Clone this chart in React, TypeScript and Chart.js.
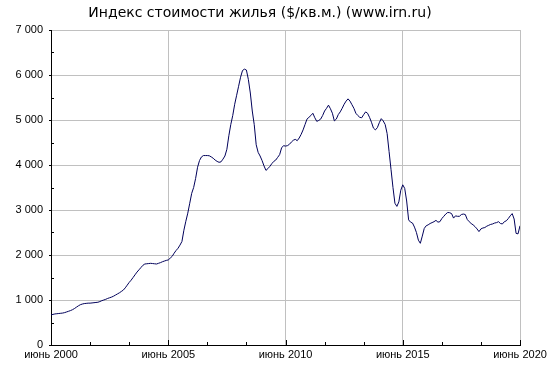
import React, { useEffect, useRef } from "react";
import { Chart, registerables } from "chart.js";

Chart.register(...registerables);

const chartTitle = "Индекс стоимости жилья ($/кв.м.) (www.irn.ru)";

// Monthly index values, June 2000 .. June 2020 ($/кв.м.)
const indexValues: number[] = [
  670, 680, 690, 695, 700, 705, 710, 720, 735, 750, 765, 785, 810,
  840, 870, 895, 910, 920, 925, 930, 930, 935, 940, 945, 950,
  965, 985, 1000, 1015, 1035, 1050, 1065, 1085, 1110, 1135, 1160, 1190,
  1220, 1270, 1330, 1390, 1440, 1500, 1560, 1620, 1670, 1720, 1770, 1800,
  1805, 1810, 1815, 1810, 1805, 1800, 1815, 1830, 1850, 1865, 1880, 1890,
  1930, 1970, 2040, 2100, 2150, 2220, 2300, 2550, 2750, 2930, 3150, 3370,
  3500, 3700, 3950, 4100, 4180, 4210, 4210, 4210, 4205, 4180, 4150, 4110,
  4080, 4060, 4070, 4130, 4200, 4350, 4650, 4900, 5100, 5350, 5550, 5750,
  5950, 6100, 6130, 6110, 5900, 5600, 5200, 4900, 4450, 4280, 4200, 4100,
  3980, 3880, 3920, 3970, 4030, 4080, 4110, 4170, 4230, 4380, 4430, 4420,
  4430, 4460, 4510, 4550, 4570, 4540, 4600, 4680, 4780, 4900, 5020, 5060,
  5100, 5150, 5050, 4970, 4990, 5020, 5100, 5200, 5260, 5330, 5250, 5150,
  4980, 5020, 5120, 5180, 5260, 5350, 5420, 5470, 5420, 5340, 5260, 5150,
  5100, 5060, 5050, 5120, 5180, 5150, 5060, 4950, 4820, 4780, 4830, 4940,
  5030, 4980, 4900, 4700, 4300, 3900, 3500, 3150, 3080, 3180, 3440, 3560,
  3480, 3200, 2780, 2730, 2710, 2620, 2500, 2330, 2260, 2420, 2590, 2650,
  2670, 2700, 2720, 2740, 2770, 2730, 2740, 2810, 2860, 2910, 2945, 2940,
  2920, 2820, 2870, 2860, 2860, 2900, 2910, 2900, 2790, 2740, 2700, 2670,
  2630, 2580, 2520, 2580, 2600, 2610, 2640, 2660, 2680, 2690, 2710, 2720,
  2740, 2700, 2690, 2740, 2760, 2810, 2870, 2920, 2800, 2480, 2470, 2650,
];

const xTickLabels = ["июнь 2000", "июнь 2005", "июнь 2010", "июнь 2015", "июнь 2020"];
const yTickLabels = ["0", "1 000", "2 000", "3 000", "4 000", "5 000", "6 000", "7 000"];

const tickMarks = {
  id: "tickMarks",
  afterDraw(chart: any) {
    const { ctx, scales, chartArea } = chart;
    const xs = scales.x;
    const ys = scales.y;
    ctx.save();
    ctx.strokeStyle = "#000";
    ctx.lineWidth = 1;
    ctx.beginPath();
    for (let v = 0; v <= 240; v += 20) {
      const px = Math.round(xs.getPixelForValue(v)) + 0.5;
      const len = v % 60 === 0 ? 5 : 3;
      ctx.moveTo(px, chartArea.bottom);
      ctx.lineTo(px, chartArea.bottom - len);
    }
    for (let v = 0; v <= 7000; v += 500) {
      const py = Math.round(ys.getPixelForValue(v)) + 0.5;
      if (v % 1000 === 0) {
        ctx.moveTo(chartArea.left - 2, py);
        ctx.lineTo(chartArea.left, py);
      } else {
        ctx.moveTo(chartArea.left, py);
        ctx.lineTo(chartArea.left + 3, py);
      }
    }
    ctx.stroke();
    ctx.restore();
  },
};

export default function App() {
  const canvasRef = useRef<HTMLCanvasElement | null>(null);

  useEffect(() => {
    document.body.style.margin = "0";
    const canvas = canvasRef.current;
    if (!canvas) return;
    const chart = new Chart(canvas, {
      type: "line",
      data: {
        datasets: [
          {
            data: indexValues.map((v, i) => ({ x: i, y: v })),
            borderColor: "#00005a",
            borderWidth: 1,
            pointRadius: 0,
            tension: 0,
            fill: false,
          },
        ],
      },
      options: {
        animation: false,
        responsive: false,
        devicePixelRatio: 1,
        layout: { padding: { left: 0, right: 30, top: 0, bottom: 0 } },
        plugins: {
          legend: { display: false },
          tooltip: { enabled: false },
          title: {
            display: true,
            text: chartTitle,
            color: "#000",
            font: { family: "DejaVu Sans", size: 14, weight: "normal", lineHeight: "17px" },
            padding: { top: 5, bottom: 8 },
          },
        },
        scales: {
          x: {
            type: "linear",
            min: 0,
            max: 240,
            afterFit: (s: any) => {
              s.height = 30;
            },
            ticks: {
              stepSize: 20,
              autoSkip: false,
              maxRotation: 0,
              padding: 3,
              color: "#000",
              font: { family: "Liberation Sans", size: 11 },
              callback: (v: any) => (Number(v) % 60 === 0 ? xTickLabels[Number(v) / 60] : ""),
            },
            grid: {
              drawTicks: false,
              color: (c: any) => (c.tick && c.tick.value % 60 === 0 ? "#c0c0c0" : "rgba(0,0,0,0)"),
              lineWidth: 1,
            },
            border: { color: "#000", width: 1 },
          },
          y: {
            type: "linear",
            min: 0,
            max: 7000,
            afterFit: (s: any) => {
              s.width = 51;
            },
            ticks: {
              stepSize: 500,
              autoSkip: false,
              padding: 8,
              color: "#000",
              font: { family: "Liberation Sans", size: 11 },
              callback: (v: any) => (Number(v) % 1000 === 0 ? yTickLabels[Number(v) / 1000] : ""),
            },
            grid: {
              drawTicks: false,
              color: (c: any) => (c.tick && c.tick.value % 1000 === 0 ? "#c0c0c0" : "rgba(0,0,0,0)"),
              lineWidth: 1,
            },
            border: { color: "#000", width: 1 },
          },
        },
      },
      plugins: [tickMarks],
    });
    return () => chart.destroy();
  }, []);

  return (
    <div style={{ width: 550, height: 375, background: "#fff" }}>
      <canvas ref={canvasRef} width={550} height={375} />
    </div>
  );
}
